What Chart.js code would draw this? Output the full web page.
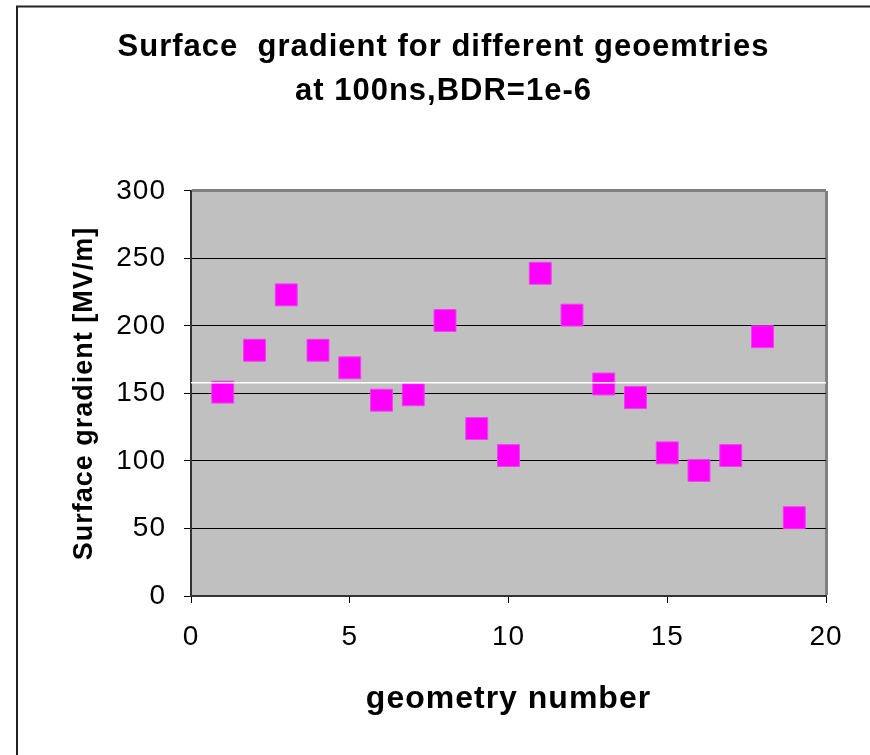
<!DOCTYPE html>
<html>
<head>
<meta charset="utf-8">
<script src="https://cdn.jsdelivr.net/npm/chart.js@4/dist/chart.umd.min.js"></script>
<style>
  html, body { margin: 0; padding: 0; background: #fff; }
  canvas { display: block; }
</style>
</head>
<body>
<canvas id="gradChart" width="870" height="755"></canvas>
<script>
const geometry = [1, 2, 3, 4, 5, 6, 7, 8, 9, 10, 11, 12, 13, 14, 15, 16, 17, 18, 19];
const gradient = [151, 182, 223, 182, 169, 145, 149, 204, 124, 104, 239, 208, 157, 147, 106, 93, 104, 192, 58];
const whiteLineX = [0, 20];
const whiteLineY = [158, 158];
const xTicks = [0, 5, 10, 15, 20];
const yTicks = [0, 50, 100, 150, 200, 250, 300];

const titleLines = ["Surface  gradient for different geoemtries", "at 100ns,BDR=1e-6"];
const FONT = "'Liberation Sans', Arial, sans-serif";

// grey plot background + the outer frame lines; the old Excel text is a bit spaced out
const framePlugin = {
  id: 'frame',
  beforeDraw(chart) {
    const { ctx, chartArea: a } = chart;
    ctx.letterSpacing = '1px';
    ctx.save();
    ctx.fillStyle = '#c0c0c0';
    ctx.fillRect(a.left, a.top, a.right - a.left, a.bottom - a.top);
    ctx.strokeStyle = '#222';
    ctx.lineWidth = 2;
    ctx.beginPath();
    ctx.moveTo(17, 755);
    ctx.lineTo(17, 6.5);
    ctx.lineTo(870, 6.5);
    ctx.stroke();
    ctx.restore();
  }
};

const points = geometry.map((g, i) => ({ x: g, y: gradient[i] }));
const whiteLine = whiteLineX.map((x, i) => ({ x, y: whiteLineY[i] }));

new Chart(document.getElementById('gradChart'), {
  type: 'scatter',
  data: {
    datasets: [
      {
        type: 'line',
        data: whiteLine,
        borderColor: '#ffffff',
        borderWidth: 1.5,
        pointRadius: 0,
        fill: false
      },
      {
        data: points,
        pointStyle: 'rect',
        pointRadius: 15.5,
        backgroundColor: '#ff00ff',
        borderColor: '#f040f0',
        borderWidth: 1
      }
    ]
  },
  options: {
    responsive: false,
    animation: false,
    events: [],
    layout: { padding: { left: 17, top: 7, right: 0, bottom: 0 } },
    plugins: {
      legend: { display: false },
      tooltip: { enabled: false },
      title: {
        display: true,
        text: titleLines,
        color: '#000',
        font: { family: FONT, size: 31, weight: 'bold', lineHeight: 1.45 },
        padding: { top: 17.5, bottom: 76.5 }
      }
    },
    scales: {
      x: {
        type: 'linear',
        min: 0,
        max: 20,
        afterFit(s) { s.height = 159; },
        afterBuildTicks(s) { s.ticks = xTicks.map(v => ({ value: v })); },
        border: { display: true, color: '#333', width: 2 },
        grid: {
          color: ctx => ctx.tick && ctx.tick.value === 20 ? '#808080' : 'rgba(0,0,0,0)',
          lineWidth: ctx => ctx.tick && ctx.tick.value === 20 ? 3 : 1,
          drawTicks: true,
          tickColor: '#000',
          tickLength: 7,
          tickWidth: 1
        },
        ticks: {
          color: '#000',
          padding: 17,
          font: { family: FONT, size: 28 }
        },
        title: {
          display: true,
          text: 'geometry number',
          color: '#000',
          font: { family: FONT, size: 32, weight: 'bold' },
          padding: { top: 0, bottom: 37 }
        }
      },
      y: {
        min: 0,
        max: 300,
        afterFit(s) { s.width = 174; },
        afterBuildTicks(s) { s.ticks = yTicks.map(v => ({ value: v })); },
        border: { display: true, color: '#333', width: 2 },
        grid: {
          color: ctx => {
            if (!ctx.tick) return 'rgba(0,0,0,0)';
            if (ctx.tick.value === 300) return '#808080';
            if (ctx.tick.value === 0) return 'rgba(0,0,0,0)';
            return '#000';
          },
          lineWidth: ctx => ctx.tick && ctx.tick.value === 300 ? 3 : 1,
          drawTicks: true,
          tickColor: '#000',
          tickLength: 7,
          tickWidth: 1
        },
        ticks: {
          color: '#000',
          padding: 18,
          font: { family: FONT, size: 28 }
        },
        title: {
          display: true,
          text: 'Surface gradient [MV/m]',
          color: '#000',
          font: { family: FONT, size: 27, weight: 'bold' },
          padding: { top: 51, bottom: 0 }
        }
      },
      // empty axis on the right, only to hold the space the original leaves there
      yRight: {
        position: 'right',
        afterFit(s) { s.width = 44; },
        grid: { display: false, drawTicks: false },
        border: { display: false },
        ticks: { display: false }
      }
    }
  },
  plugins: [framePlugin]
});
</script>
</body>
</html>
